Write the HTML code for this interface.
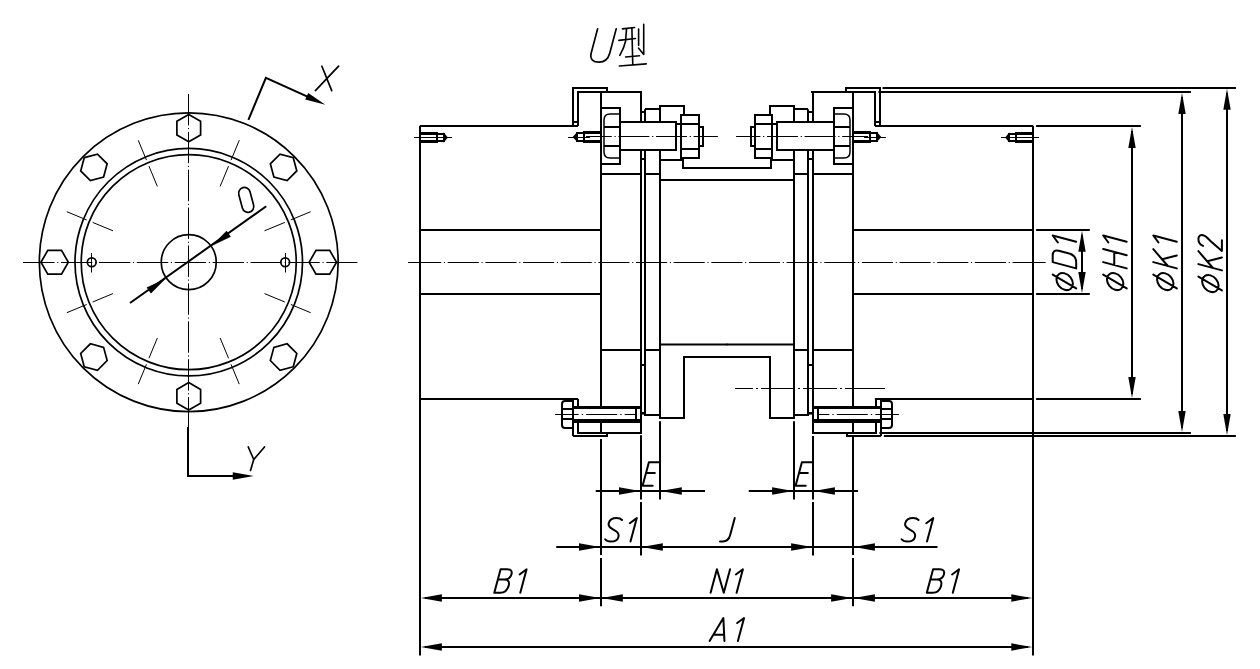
<!DOCTYPE html>
<html><head><meta charset="utf-8"><title>U</title>
<style>html,body{margin:0;padding:0;background:#fff;font-family:"Liberation Sans",sans-serif;}svg{display:block}</style>
</head><body>
<svg width="1260" height="669" viewBox="0 0 1260 669">
<rect width="1260" height="669" fill="#fff"/>
<g fill="none" stroke="#000" stroke-linecap="butt" stroke-linejoin="miter">
<circle cx="188.75" cy="262.2" r="149.4" stroke-width="1.7"/>
<circle cx="188.75" cy="262.2" r="113.75" stroke-width="1.7"/>
<circle cx="188.75" cy="262.2" r="107.5" stroke-width="1.7"/>
<circle cx="188.75" cy="262.2" r="27.5" stroke-width="1.7"/>
<circle cx="91.75" cy="262.2" r="4.4" stroke-width="1.7"/>
<line x1="91.50" y1="253.00" x2="91.50" y2="272.50" stroke-width="1.0" />
<circle cx="285.2" cy="262.2" r="4.4" stroke-width="1.7"/>
<line x1="285.50" y1="253.00" x2="285.50" y2="272.50" stroke-width="1.0" />
<path d="M336.55,262.20 L329.70,274.06 L316.00,274.06 L309.15,262.20 L316.00,250.34 L329.70,250.34 Z" stroke-width="1.7" stroke-linejoin="miter"/>
<path d="M293.26,366.71 L280.03,370.26 L270.34,360.57 L273.89,347.34 L287.12,343.79 L296.81,353.48 Z" stroke-width="1.7" stroke-linejoin="miter"/>
<path d="M188.75,410.00 L176.89,403.15 L176.89,389.45 L188.75,382.60 L200.61,389.45 L200.61,403.15 Z" stroke-width="1.7" stroke-linejoin="miter"/>
<path d="M84.24,366.71 L80.69,353.48 L90.38,343.79 L103.61,347.34 L107.16,360.57 L97.47,370.26 Z" stroke-width="1.7" stroke-linejoin="miter"/>
<path d="M40.95,262.20 L47.80,250.34 L61.50,250.34 L68.35,262.20 L61.50,274.06 L47.80,274.06 Z" stroke-width="1.7" stroke-linejoin="miter"/>
<path d="M84.24,157.69 L97.47,154.14 L107.16,163.83 L103.61,177.06 L90.38,180.61 L80.69,170.92 Z" stroke-width="1.7" stroke-linejoin="miter"/>
<path d="M188.75,114.40 L200.61,121.25 L200.61,134.95 L188.75,141.80 L176.89,134.95 L176.89,121.25 Z" stroke-width="1.7" stroke-linejoin="miter"/>
<path d="M293.26,157.69 L296.81,170.92 L287.12,180.61 L273.89,177.06 L270.34,163.83 L280.03,154.14 Z" stroke-width="1.7" stroke-linejoin="miter"/>
<line x1="264.51" y1="293.58" x2="284.83" y2="302.00" stroke-width="1.0" />
<line x1="290.84" y1="304.49" x2="310.70" y2="312.71" stroke-width="1.0" />
<line x1="220.13" y1="337.96" x2="228.55" y2="358.28" stroke-width="1.0" />
<line x1="231.04" y1="364.29" x2="239.26" y2="384.15" stroke-width="1.0" />
<line x1="157.37" y1="337.96" x2="148.95" y2="358.28" stroke-width="1.0" />
<line x1="146.46" y1="364.29" x2="138.24" y2="384.15" stroke-width="1.0" />
<line x1="112.99" y1="293.58" x2="92.67" y2="302.00" stroke-width="1.0" />
<line x1="86.66" y1="304.49" x2="66.80" y2="312.71" stroke-width="1.0" />
<line x1="112.99" y1="230.82" x2="92.67" y2="222.40" stroke-width="1.0" />
<line x1="86.66" y1="219.91" x2="66.80" y2="211.69" stroke-width="1.0" />
<line x1="157.37" y1="186.44" x2="148.95" y2="166.12" stroke-width="1.0" />
<line x1="146.46" y1="160.11" x2="138.24" y2="140.25" stroke-width="1.0" />
<line x1="220.13" y1="186.44" x2="228.55" y2="166.12" stroke-width="1.0" />
<line x1="231.04" y1="160.11" x2="239.26" y2="140.25" stroke-width="1.0" />
<line x1="264.51" y1="230.82" x2="284.83" y2="222.40" stroke-width="1.0" />
<line x1="290.84" y1="219.91" x2="310.70" y2="211.69" stroke-width="1.0" />
<line x1="23.10" y1="262.50" x2="357.40" y2="262.50" stroke-width="1.0" stroke-dasharray="31.4 2.7 1.1 2.7"/>
<line x1="188.50" y1="93.90" x2="188.50" y2="427.20" stroke-width="1.0" stroke-dasharray="31.4 2.7 1.1 2.7"/>
<line x1="130.00" y1="303.00" x2="266.25" y2="206.25" stroke-width="2.0" />
<path d="M165.90,278.40 L150.92,293.58 L146.64,287.54 Z" fill="#000" stroke="none"/>
<path d="M211.60,246.00 L226.58,230.82 L230.86,236.86 Z" fill="#000" stroke="none"/>
<rect x="-5.80" y="-12.70" width="11.6" height="25.4" rx="5.8" ry="5.8" transform="translate(246.2,199.9) rotate(-15)" stroke-width="1.7"/>
<path d="M248.40,119.80 L265.90,77.80 L318.00,101.40" stroke-width="2.0" />
<path d="M325.40,104.80 L305.24,99.61 L308.22,93.05 Z" fill="#000" stroke="none"/>
<path d="M321.9,66.2 L331.7,90.6 M338.6,66.2 L315.4,90.6" stroke-width="1.7" stroke-linecap="round"/>
<path d="M188.00,427.00 L188.00,476.00 L240.00,476.00" stroke-width="2.0" />
<path d="M253.75,476.00 L232.75,479.70 L232.75,472.30 Z" fill="#000" stroke="none"/>
<path d="M248.25,447 L253.75,459.5 L264.5,447 M253.75,459.5 L250.5,470.5" stroke-width="1.7" stroke-linecap="round" stroke-linejoin="round"/>
<g>
<line x1="641.00" y1="91.00" x2="641.00" y2="122.00" stroke-width="2.0" />
<line x1="601.00" y1="92.10" x2="601.00" y2="407.30" stroke-width="2.0" />
<path d="M601.00,108.00 L620.00,108.00 L620.00,164.00 L601.00,164.00" stroke-width="2.0" />
<path d="M620,114 L610,114 C606,114 604,116 604,120 L604,152 C604,156 606,158 610,158 L620,158" stroke-width="1.5" />
<line x1="604.00" y1="127.00" x2="620.00" y2="127.00" stroke-width="2.0" />
<line x1="604.00" y1="146.00" x2="620.00" y2="146.00" stroke-width="2.0" />
<path d="M620.00,122.00 L676.00,122.00 L676.00,150.00 L620.00,150.00" stroke-width="2.0" />
<line x1="641.00" y1="149.70" x2="641.00" y2="407.30" stroke-width="2.0" />
<line x1="645.00" y1="109.20" x2="645.00" y2="121.70" stroke-width="2.0" />
<path d="M645.00,150.00 L645.00,415.00 L660.00,415.00" stroke-width="2.0" />
<line x1="641.10" y1="112.00" x2="645.00" y2="112.00" stroke-width="2.0" />
<line x1="641.10" y1="159.00" x2="645.00" y2="159.00" stroke-width="2.0" />
<line x1="641.10" y1="365.00" x2="645.00" y2="365.00" stroke-width="2.0" />
<path d="M645.00,109.00 L660.00,109.00" stroke-width="2.0" />
<path d="M660.00,122.00 L660.00,106.00 L684.00,106.00 L684.00,115.00" stroke-width="2.0" />
<path d="M681.00,115.00 L699.00,115.00 L699.00,158.00 L681.00,158.00 Z" stroke-width="2.0" />
<line x1="676.00" y1="124.00" x2="699.00" y2="124.00" stroke-width="2.0" />
<line x1="681.00" y1="149.00" x2="699.00" y2="149.00" stroke-width="2.0" />
<path d="M699.00,127.00 L703.00,127.00 L703.00,146.00 L699.00,146.00" stroke-width="2.0" />
<line x1="660.00" y1="150.00" x2="660.00" y2="419.00" stroke-width="2.0" />
<line x1="600.90" y1="174.00" x2="641.10" y2="174.00" stroke-width="2.0" />
<line x1="645.00" y1="174.00" x2="659.90" y2="174.00" stroke-width="2.0" />
<line x1="600.90" y1="350.00" x2="641.10" y2="350.00" stroke-width="2.0" />
<line x1="645.00" y1="350.00" x2="659.90" y2="350.00" stroke-width="2.0" />
<path d="M660.00,160.00 L683.00,160.00" stroke-width="2.0" />
<path d="M683.00,158.00 L683.00,168.00 L728.00,168.00" stroke-width="2.0" />
<line x1="659.90" y1="180.00" x2="727.50" y2="180.00" stroke-width="2.0" />
<line x1="659.90" y1="344.50" x2="727.50" y2="344.50" stroke-width="2.001" />
<path d="M728.00,357.00 L684.00,357.00 L684.00,418.00 L660.00,418.00" stroke-width="2.0" />
<line x1="573.00" y1="407.50" x2="642.00" y2="407.50" stroke-width="3" />
<line x1="573.00" y1="421.00" x2="642.00" y2="421.00" stroke-width="4" />
<line x1="641.00" y1="407.00" x2="641.00" y2="421.00" stroke-width="2.0" />
<line x1="636.00" y1="408.00" x2="636.00" y2="420.00" stroke-width="2" />
<line x1="641.00" y1="413.30" x2="645.00" y2="413.30" stroke-width="2.6" />
<path d="M573,401 L565,401 Q562,401 562,404 L562,425 Q562,428 565,428 L573,428" stroke-width="2.0" />
<line x1="562.00" y1="409.00" x2="573.00" y2="409.00" stroke-width="2.0" />
<line x1="562.00" y1="419.00" x2="573.00" y2="419.00" stroke-width="2.0" />
<line x1="573.00" y1="399.10" x2="573.00" y2="435.90" stroke-width="2.0" />
<path d="M578.00,399.00 L578.00,407.00" stroke-width="2.0" />
<path d="M573.00,436.00 L607.00,436.00 L607.00,433.00" stroke-width="2.0" />
<path d="M578.00,421.00 L578.00,433.00 L641.00,433.00 L641.00,421.00" stroke-width="2.0" />
<line x1="601.00" y1="421.00" x2="601.00" y2="433.00" stroke-width="2.0" />
<line x1="584.00" y1="132.50" x2="601.00" y2="132.50" stroke-width="3" />
<line x1="584.00" y1="141.50" x2="601.00" y2="141.50" stroke-width="3" />
<line x1="584.00" y1="131.00" x2="584.00" y2="143.00" stroke-width="2" />
<line x1="577.00" y1="133.00" x2="584.00" y2="133.00" stroke-width="2" />
<line x1="577.00" y1="141.00" x2="584.00" y2="141.00" stroke-width="2" />
<line x1="577.00" y1="132.00" x2="577.00" y2="142.00" stroke-width="2" />
<path d="M577.5,131.8 L572.6,137 L577.5,142.2 Z" fill="#000" stroke="none"/>
<line x1="568.10" y1="137.50" x2="590.00" y2="137.50" stroke-width="1.0" />
<line x1="586.00" y1="136.50" x2="717.90" y2="136.50" stroke-width="1.0" stroke-dasharray="25.8 2.7 1.2 2.7 31 2.7 1.2 2.7 31 2.7 1.2 2.7 30"/>
<line x1="555.10" y1="414.50" x2="636.00" y2="414.50" stroke-width="1.0" stroke-dasharray="23.6 3.1 1.3 3.1 31 3.1 1.3 3.1 20"/>
</g>
<g transform="translate(1454,0) scale(-1,1)">
<line x1="641.00" y1="91.00" x2="641.00" y2="122.00" stroke-width="2.0" />
<line x1="601.00" y1="92.10" x2="601.00" y2="407.30" stroke-width="2.0" />
<path d="M601.00,108.00 L620.00,108.00 L620.00,164.00 L601.00,164.00" stroke-width="2.0" />
<path d="M620,114 L610,114 C606,114 604,116 604,120 L604,152 C604,156 606,158 610,158 L620,158" stroke-width="1.5" />
<line x1="604.00" y1="127.00" x2="620.00" y2="127.00" stroke-width="2.0" />
<line x1="604.00" y1="146.00" x2="620.00" y2="146.00" stroke-width="2.0" />
<path d="M620.00,122.00 L677.00,122.00 L677.00,150.00 L620.00,150.00" stroke-width="2.0" />
<line x1="641.00" y1="149.70" x2="641.00" y2="407.30" stroke-width="2.0" />
<line x1="646.00" y1="109.20" x2="646.00" y2="121.70" stroke-width="2.0" />
<path d="M646.00,150.00 L646.00,415.00 L660.00,415.00" stroke-width="2.0" />
<line x1="641.10" y1="112.00" x2="646.00" y2="112.00" stroke-width="2.0" />
<line x1="641.10" y1="159.00" x2="646.00" y2="159.00" stroke-width="2.0" />
<line x1="641.10" y1="365.00" x2="646.00" y2="365.00" stroke-width="2.0" />
<path d="M646.00,109.00 L660.00,109.00" stroke-width="2.0" />
<path d="M660.00,122.00 L660.00,106.00 L684.00,106.00 L684.00,115.00" stroke-width="2.0" />
<path d="M682.00,115.00 L699.00,115.00 L699.00,158.00 L682.00,158.00 Z" stroke-width="2.0" />
<line x1="677.00" y1="124.00" x2="699.00" y2="124.00" stroke-width="2.0" />
<line x1="682.00" y1="149.00" x2="699.00" y2="149.00" stroke-width="2.0" />
<path d="M699.00,127.00 L703.00,127.00 L703.00,146.00 L699.00,146.00" stroke-width="2.0" />
<line x1="660.00" y1="150.00" x2="660.00" y2="419.00" stroke-width="2.0" />
<line x1="600.90" y1="174.00" x2="641.10" y2="174.00" stroke-width="2.0" />
<line x1="646.00" y1="174.00" x2="659.90" y2="174.00" stroke-width="2.0" />
<line x1="600.90" y1="350.00" x2="641.10" y2="350.00" stroke-width="2.0" />
<line x1="646.00" y1="350.00" x2="659.90" y2="350.00" stroke-width="2.0" />
<path d="M660.00,160.00 L683.00,160.00" stroke-width="2.0" />
<path d="M683.00,158.00 L683.00,168.00 L728.00,168.00" stroke-width="2.0" />
<line x1="659.90" y1="180.00" x2="727.50" y2="180.00" stroke-width="2.0" />
<line x1="659.90" y1="344.50" x2="727.50" y2="344.50" stroke-width="2.001" />
<path d="M728.00,357.00 L684.00,357.00 L684.00,418.00 L660.00,418.00" stroke-width="2.0" />
<line x1="573.00" y1="407.50" x2="642.00" y2="407.50" stroke-width="3" />
<line x1="573.00" y1="421.00" x2="642.00" y2="421.00" stroke-width="4" />
<line x1="641.00" y1="407.00" x2="641.00" y2="421.00" stroke-width="2.0" />
<line x1="636.00" y1="408.00" x2="636.00" y2="420.00" stroke-width="2" />
<line x1="641.00" y1="413.30" x2="646.00" y2="413.30" stroke-width="2.6" />
<path d="M573,401 L565,401 Q562,401 562,404 L562,425 Q562,428 565,428 L573,428" stroke-width="2.0" />
<line x1="562.00" y1="409.00" x2="573.00" y2="409.00" stroke-width="2.0" />
<line x1="562.00" y1="419.00" x2="573.00" y2="419.00" stroke-width="2.0" />
<line x1="573.00" y1="399.10" x2="573.00" y2="435.90" stroke-width="2.0" />
<path d="M578.00,399.00 L578.00,407.00" stroke-width="2.0" />
<path d="M573.00,436.00 L607.00,436.00 L607.00,433.00" stroke-width="2.0" />
<path d="M578.00,421.00 L578.00,433.00 L641.00,433.00 L641.00,421.00" stroke-width="2.0" />
<line x1="601.00" y1="421.00" x2="601.00" y2="433.00" stroke-width="2.0" />
<line x1="584.00" y1="132.50" x2="601.00" y2="132.50" stroke-width="3" />
<line x1="584.00" y1="141.50" x2="601.00" y2="141.50" stroke-width="3" />
<line x1="584.00" y1="131.00" x2="584.00" y2="143.00" stroke-width="2" />
<line x1="577.00" y1="133.00" x2="584.00" y2="133.00" stroke-width="2" />
<line x1="577.00" y1="141.00" x2="584.00" y2="141.00" stroke-width="2" />
<line x1="577.00" y1="132.00" x2="577.00" y2="142.00" stroke-width="2" />
<path d="M577.5,131.8 L572.6,137 L577.5,142.2 Z" fill="#000" stroke="none"/>
<line x1="568.10" y1="137.50" x2="590.00" y2="137.50" stroke-width="1.0" />
<line x1="586.00" y1="136.50" x2="717.90" y2="136.50" stroke-width="1.0" stroke-dasharray="25.8 2.7 1.2 2.7 31 2.7 1.2 2.7 31 2.7 1.2 2.7 30"/>
<line x1="555.10" y1="414.50" x2="636.00" y2="414.50" stroke-width="1.0" stroke-dasharray="23.6 3.1 1.3 3.1 31 3.1 1.3 3.1 20"/>
</g>
<g>
<path d="M573.00,126.00 L573.00,88.00 L607.00,88.00 L607.00,92.00" stroke-width="2.0" />
<path d="M578.00,126.00 L578.00,92.00 L642.00,92.00" stroke-width="2.0" />
<line x1="573.00" y1="122.00" x2="578.00" y2="122.00" stroke-width="2.0" />
</g>
<g transform="translate(1453,0) scale(-1,1)">
<path d="M573.00,126.00 L573.00,88.00 L607.00,88.00 L607.00,92.00" stroke-width="2.0" />
<path d="M578.00,126.00 L578.00,92.00 L642.00,92.00" stroke-width="2.0" />
<line x1="573.00" y1="122.00" x2="578.00" y2="122.00" stroke-width="2.0" />
</g>
<g>
<line x1="420.00" y1="125.70" x2="420.00" y2="399.10" stroke-width="2.0" />
<line x1="420.00" y1="126.00" x2="578.00" y2="126.00" stroke-width="2.0" />
<line x1="420.00" y1="399.00" x2="578.10" y2="399.00" stroke-width="2.0" />
<line x1="420.00" y1="230.00" x2="600.90" y2="230.00" stroke-width="2.0" />
<line x1="420.00" y1="294.00" x2="600.90" y2="294.00" stroke-width="2.0" />
<line x1="420.00" y1="133.50" x2="437.00" y2="133.50" stroke-width="3" />
<line x1="420.00" y1="141.50" x2="437.00" y2="141.50" stroke-width="3" />
<line x1="437.00" y1="132.00" x2="437.00" y2="143.00" stroke-width="2" />
<line x1="437.00" y1="134.00" x2="444.00" y2="134.00" stroke-width="2" />
<line x1="437.00" y1="141.00" x2="444.00" y2="141.00" stroke-width="2" />
<line x1="444.00" y1="133.00" x2="444.00" y2="142.00" stroke-width="2" />
<path d="M443.5,132.3 L447.9,137.5 L443.5,142.7 Z" fill="#000" stroke="none"/>
<line x1="414.00" y1="137.50" x2="452.00" y2="137.50" stroke-width="1.0" />
<line x1="420.00" y1="399.10" x2="420.00" y2="655.50" stroke-width="2.0" />
</g>
<g transform="translate(1453,0) scale(-1,1)">
<line x1="420.00" y1="125.70" x2="420.00" y2="399.10" stroke-width="2.0" />
<line x1="420.00" y1="126.00" x2="578.00" y2="126.00" stroke-width="2.0" />
<line x1="420.00" y1="399.00" x2="578.10" y2="399.00" stroke-width="2.0" />
<line x1="420.00" y1="230.00" x2="600.90" y2="230.00" stroke-width="2.0" />
<line x1="420.00" y1="294.00" x2="600.90" y2="294.00" stroke-width="2.0" />
<line x1="420.00" y1="133.50" x2="437.00" y2="133.50" stroke-width="3" />
<line x1="420.00" y1="141.50" x2="437.00" y2="141.50" stroke-width="3" />
<line x1="437.00" y1="132.00" x2="437.00" y2="143.00" stroke-width="2" />
<line x1="437.00" y1="134.00" x2="444.00" y2="134.00" stroke-width="2" />
<line x1="437.00" y1="141.00" x2="444.00" y2="141.00" stroke-width="2" />
<line x1="444.00" y1="133.00" x2="444.00" y2="142.00" stroke-width="2" />
<path d="M443.5,132.3 L447.9,137.5 L443.5,142.7 Z" fill="#000" stroke="none"/>
<line x1="414.00" y1="137.50" x2="452.00" y2="137.50" stroke-width="1.0" />
<line x1="420.00" y1="399.10" x2="420.00" y2="655.50" stroke-width="2.0" />
</g>
<line x1="410.10" y1="262.50" x2="1045.70" y2="262.50" stroke-width="1.0" stroke-dasharray="31.1 2.75 1.05 2.75"/>
<line x1="408.10" y1="262.50" x2="410.60" y2="262.50" stroke-width="1.0" />
<line x1="1043.00" y1="262.50" x2="1045.70" y2="262.50" stroke-width="1.0" />
<line x1="735.00" y1="388.50" x2="885.00" y2="388.50" stroke-width="1.0" stroke-dasharray="18 3 2 3 34 3 2 3 34 3 2 3 60"/>
<line x1="882.50" y1="88.00" x2="1235.90" y2="88.00" stroke-width="2.0" />
<line x1="878.40" y1="92.00" x2="1190.90" y2="92.00" stroke-width="2.0" />
<line x1="1036.10" y1="126.00" x2="1140.90" y2="126.00" stroke-width="2.0" />
<line x1="1036.10" y1="230.00" x2="1089.80" y2="230.00" stroke-width="2.0" />
<line x1="1036.10" y1="294.00" x2="1089.80" y2="294.00" stroke-width="2.0" />
<line x1="1036.10" y1="399.00" x2="1140.90" y2="399.00" stroke-width="2.0" />
<line x1="879.40" y1="433.00" x2="1190.90" y2="433.00" stroke-width="2.0" />
<line x1="883.90" y1="436.00" x2="1235.90" y2="436.00" stroke-width="2.0" />
<line x1="601.00" y1="439.00" x2="601.00" y2="555.00" stroke-width="2.0" />
<line x1="601.00" y1="558.00" x2="601.00" y2="606.25" stroke-width="2.0" />
<line x1="853.00" y1="436.00" x2="853.00" y2="555.00" stroke-width="2.0" />
<line x1="853.00" y1="558.00" x2="853.00" y2="606.25" stroke-width="2.0" />
<line x1="641.00" y1="435.30" x2="641.00" y2="499.50" stroke-width="2.0" />
<line x1="641.00" y1="502.00" x2="641.00" y2="555.50" stroke-width="2.0" />
<line x1="813.00" y1="436.00" x2="813.00" y2="499.50" stroke-width="2.0" />
<line x1="813.00" y1="502.00" x2="813.00" y2="555.50" stroke-width="2.0" />
<line x1="660.00" y1="421.30" x2="660.00" y2="499.50" stroke-width="2.0" />
<line x1="794.00" y1="421.30" x2="794.00" y2="499.50" stroke-width="2.0" />
<line x1="1082.00" y1="234.90" x2="1082.00" y2="288.90" stroke-width="2.0" />
<path d="M1082.00,230.80 L1085.70,251.80 L1078.30,251.80 Z" fill="#000" stroke="none"/>
<path d="M1082.00,293.00 L1078.30,272.00 L1085.70,272.00 Z" fill="#000" stroke="none"/>
<line x1="1132.00" y1="131.00" x2="1132.00" y2="394.00" stroke-width="2.0" />
<path d="M1132.00,126.90 L1135.70,147.90 L1128.30,147.90 Z" fill="#000" stroke="none"/>
<path d="M1132.00,398.10 L1128.30,377.10 L1135.70,377.10 Z" fill="#000" stroke="none"/>
<line x1="1182.00" y1="97.10" x2="1182.00" y2="428.00" stroke-width="2.0" />
<path d="M1182.00,93.00 L1185.70,114.00 L1178.30,114.00 Z" fill="#000" stroke="none"/>
<path d="M1182.00,432.10 L1178.30,411.10 L1185.70,411.10 Z" fill="#000" stroke="none"/>
<line x1="1227.00" y1="92.90" x2="1227.00" y2="430.90" stroke-width="2.0" />
<path d="M1227.00,88.80 L1230.70,109.80 L1223.30,109.80 Z" fill="#000" stroke="none"/>
<path d="M1227.00,435.00 L1223.30,414.00 L1230.70,414.00 Z" fill="#000" stroke="none"/>
<line x1="595.75" y1="491.00" x2="705.00" y2="491.00" stroke-width="2.0" />
<path d="M640.00,491.00 L619.00,494.70 L619.00,487.30 Z" fill="#000" stroke="none"/>
<path d="M660.80,491.00 L681.80,487.30 L681.80,494.70 Z" fill="#000" stroke="none"/>
<line x1="748.75" y1="491.00" x2="858.00" y2="491.00" stroke-width="2.0" />
<path d="M793.10,491.00 L772.10,494.70 L772.10,487.30 Z" fill="#000" stroke="none"/>
<path d="M813.90,491.00 L834.90,487.30 L834.90,494.70 Z" fill="#000" stroke="none"/>
<line x1="556.25" y1="547.00" x2="937.50" y2="547.00" stroke-width="2.0" />
<path d="M600.00,547.00 L579.00,550.70 L579.00,543.30 Z" fill="#000" stroke="none"/>
<path d="M641.80,547.00 L662.80,543.30 L662.80,550.70 Z" fill="#000" stroke="none"/>
<path d="M812.10,547.00 L791.10,550.70 L791.10,543.30 Z" fill="#000" stroke="none"/>
<path d="M853.90,547.00 L874.90,543.30 L874.90,550.70 Z" fill="#000" stroke="none"/>
<line x1="425.00" y1="598.00" x2="1028.00" y2="598.00" stroke-width="2.0" />
<path d="M420.90,598.00 L441.90,594.30 L441.90,601.70 Z" fill="#000" stroke="none"/>
<path d="M600.00,598.00 L579.00,601.70 L579.00,594.30 Z" fill="#000" stroke="none"/>
<path d="M601.80,598.00 L622.80,594.30 L622.80,601.70 Z" fill="#000" stroke="none"/>
<path d="M852.10,598.00 L831.10,601.70 L831.10,594.30 Z" fill="#000" stroke="none"/>
<path d="M853.90,598.00 L874.90,594.30 L874.90,601.70 Z" fill="#000" stroke="none"/>
<path d="M1032.30,598.00 L1011.30,601.70 L1011.30,594.30 Z" fill="#000" stroke="none"/>
<line x1="425.00" y1="647.00" x2="1028.00" y2="647.00" stroke-width="2.0" />
<path d="M420.90,647.00 L441.90,643.30 L441.90,650.70 Z" fill="#000" stroke="none"/>
<path d="M1032.30,647.00 L1011.30,650.70 L1011.30,643.30 Z" fill="#000" stroke="none"/>
<path d="M494.30,592.80 L500.60,569.30 L507.18,569.30 C510.94,569.30 512.31,571.18 511.49,574.23 C510.68,577.29 508.23,579.40 504.47,579.40 L497.89,579.40 M504.47,579.40 C508.46,579.40 509.65,581.99 508.64,585.75 C507.38,590.45 504.17,592.80 500.18,592.80 L494.30,592.80" stroke-width="2.0" stroke-linecap="round" stroke-linejoin="round"/>
<path d="M519.57,574.47 L526.60,569.30 L520.30,592.80" stroke-width="2.0" stroke-linecap="round" stroke-linejoin="round"/>
<path d="M710.60,592.80 L716.90,569.30 L723.76,592.80 L730.06,569.30" stroke-width="2.0" stroke-linecap="round" stroke-linejoin="round"/>
<path d="M735.87,574.47 L742.90,569.30 L736.60,592.80" stroke-width="2.0" stroke-linecap="round" stroke-linejoin="round"/>
<path d="M926.80,592.80 L933.10,569.30 L939.68,569.30 C943.44,569.30 944.81,571.18 943.99,574.23 C943.18,577.29 940.73,579.40 936.97,579.40 L930.39,579.40 M936.97,579.40 C940.96,579.40 942.15,581.99 941.14,585.75 C939.88,590.45 936.67,592.80 932.67,592.80 L926.80,592.80" stroke-width="2.0" stroke-linecap="round" stroke-linejoin="round"/>
<path d="M952.07,574.47 L959.10,569.30 L952.80,592.80" stroke-width="2.0" stroke-linecap="round" stroke-linejoin="round"/>
<path d="M709.60,641.00 L723.35,618.00 L724.44,641.00 M713.33,634.79 L724.14,634.79" stroke-width="2.0" stroke-linecap="round" stroke-linejoin="round"/>
<path d="M737.19,623.06 L744.06,618.00 L737.90,641.00" stroke-width="2.0" stroke-linecap="round" stroke-linejoin="round"/>
<path d="M622.05,519.98 C620.78,518.57 618.79,518.10 616.68,518.10 C612.68,518.10 609.59,519.98 608.71,523.27 C607.96,526.09 609.69,527.50 612.54,529.14 L615.80,531.02 C618.18,532.67 619.21,534.08 618.45,536.90 C617.64,539.96 614.38,541.60 610.85,541.60 C608.26,541.60 606.17,540.66 605.13,539.25" stroke-width="2.0" stroke-linecap="round" stroke-linejoin="round"/>
<path d="M629.77,523.27 L636.80,518.10 L630.50,541.60" stroke-width="2.0" stroke-linecap="round" stroke-linejoin="round"/>
<path d="M918.55,519.98 C917.28,518.57 915.29,518.10 913.18,518.10 C909.18,518.10 906.09,519.98 905.21,523.27 C904.46,526.09 906.19,527.50 909.04,529.14 L912.30,531.02 C914.68,532.67 915.71,534.08 914.95,536.90 C914.14,539.96 910.88,541.60 907.35,541.60 C904.76,541.60 902.67,540.66 901.63,539.25" stroke-width="2.0" stroke-linecap="round" stroke-linejoin="round"/>
<path d="M926.27,523.27 L933.30,518.10 L927.00,541.60" stroke-width="2.0" stroke-linecap="round" stroke-linejoin="round"/>
<path d="M734.76,517.90 L730.03,535.52 C728.96,539.52 726.58,541.40 722.82,541.40 L720.00,541.40" stroke-width="2.0" stroke-linecap="round" stroke-linejoin="round"/>
<path d="M659.47,462.30 L648.90,462.30 L642.60,485.80 L652.71,485.80 M646.03,472.99 L654.84,472.99" stroke-width="2.0" stroke-linecap="round" stroke-linejoin="round"/>
<path d="M812.47,462.30 L801.90,462.30 L795.60,485.80 L805.71,485.80 M799.03,472.99 L807.84,472.99" stroke-width="2.0" stroke-linecap="round" stroke-linejoin="round"/>
<path d="M1064.68,273.36 C1060.14,272.15 1056.46,274.84 1056.46,279.39 C1056.46,283.93 1060.14,288.60 1064.68,289.81 C1069.23,291.03 1072.91,288.34 1072.91,283.79 C1072.91,279.25 1069.23,274.58 1064.68,273.36 M1076.20,288.44 L1052.70,274.62" stroke-width="2.0" stroke-linecap="round" stroke-linejoin="round"/>
<path d="M1076.20,268.40 L1052.70,262.10 L1052.70,255.76 C1052.70,251.53 1054.58,249.68 1058.81,250.82 L1069.15,253.59 C1073.85,254.85 1076.20,257.82 1076.20,262.52 L1076.20,268.40" stroke-width="2.0" stroke-linecap="round" stroke-linejoin="round"/>
<path d="M1057.87,242.53 L1052.70,235.50 L1076.20,241.80" stroke-width="2.0" stroke-linecap="round" stroke-linejoin="round"/>
<path d="M1115.18,273.36 C1110.64,272.15 1106.96,274.84 1106.96,279.39 C1106.96,283.93 1110.64,288.60 1115.18,289.81 C1119.73,291.03 1123.41,288.34 1123.41,283.79 C1123.41,279.25 1119.73,274.58 1115.18,273.36 M1126.70,288.44 L1103.20,274.62" stroke-width="2.0" stroke-linecap="round" stroke-linejoin="round"/>
<path d="M1126.70,268.40 L1103.20,262.10 M1126.70,255.24 L1103.20,248.94 M1114.25,265.06 L1114.25,251.90" stroke-width="2.0" stroke-linecap="round" stroke-linejoin="round"/>
<path d="M1108.37,242.53 L1103.20,235.50 L1126.70,241.80" stroke-width="2.0" stroke-linecap="round" stroke-linejoin="round"/>
<path d="M1165.28,273.36 C1160.74,272.15 1157.06,274.84 1157.06,279.39 C1157.06,283.93 1160.74,288.60 1165.28,289.81 C1169.83,291.03 1173.51,288.34 1173.51,283.79 C1173.51,279.25 1169.83,274.58 1165.28,273.36 M1176.80,288.44 L1153.30,274.62" stroke-width="2.0" stroke-linecap="round" stroke-linejoin="round"/>
<path d="M1176.80,268.40 L1153.30,262.10 M1167.87,266.01 L1153.30,249.18 M1162.23,259.33 L1176.80,255.47" stroke-width="2.0" stroke-linecap="round" stroke-linejoin="round"/>
<path d="M1158.47,242.53 L1153.30,235.50 L1176.80,241.80" stroke-width="2.0" stroke-linecap="round" stroke-linejoin="round"/>
<path d="M1210.38,275.36 C1205.84,274.15 1202.16,276.84 1202.16,281.39 C1202.16,285.93 1205.84,290.60 1210.38,291.81 C1214.93,293.03 1218.61,290.34 1218.61,285.79 C1218.61,281.25 1214.93,276.58 1210.38,275.36 M1221.90,290.44 L1198.40,276.62" stroke-width="2.0" stroke-linecap="round" stroke-linejoin="round"/>
<path d="M1221.90,270.40 L1198.40,264.10 M1212.97,268.01 L1198.40,251.18 M1207.33,261.33 L1221.90,257.47" stroke-width="2.0" stroke-linecap="round" stroke-linejoin="round"/>
<path d="M1203.10,245.86 C1200.05,244.57 1198.40,242.25 1198.40,239.20 C1198.40,236.14 1200.28,234.53 1203.10,235.29 C1205.45,235.92 1207.33,237.60 1210.15,240.70 L1221.90,250.90 L1221.90,240.33" stroke-width="2.0" stroke-linecap="round" stroke-linejoin="round"/>
<path d="M597.6,28.9 L591.2,53.0 C589.5,59.5 593.5,62.2 599.0,62.2 C604.5,62.2 608.3,58.5 609.8,53.0 L616.2,28.9" stroke-width="1.7" stroke-linecap="round"/>
<path d="M622.47,28.90 L634.57,27.56" stroke-width="1.6" stroke-linecap="round" stroke-linejoin="round"/>
<path d="M618.88,40.38 L635.47,38.50" stroke-width="1.6" stroke-linecap="round" stroke-linejoin="round"/>
<path d="M626.50,28.90 L625.61,41.01 L623.36,48.18 L619.78,55.36" stroke-width="1.6" stroke-linecap="round" stroke-linejoin="round"/>
<path d="M631.88,27.74 L632.78,64.78" stroke-width="1.6" stroke-linecap="round" stroke-linejoin="round"/>
<path d="M638.61,29.17 L638.61,45.49" stroke-width="1.6" stroke-linecap="round" stroke-linejoin="round"/>
<path d="M643.72,24.42 L643.72,54.46 L638.61,48.18" stroke-width="1.6" stroke-linecap="round" stroke-linejoin="round"/>
<path d="M625.61,56.97 L639.51,55.81" stroke-width="1.6" stroke-linecap="round" stroke-linejoin="round"/>
<path d="M619.33,65.94 L646.23,63.88" stroke-width="1.6" stroke-linecap="round" stroke-linejoin="round"/>
</g></svg>
</body></html>
